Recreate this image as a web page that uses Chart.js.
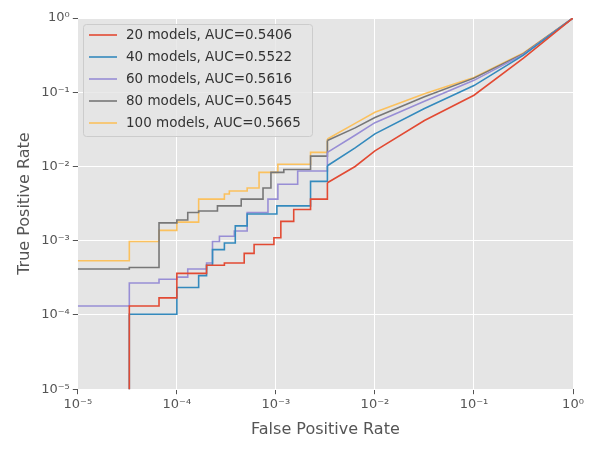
<!DOCTYPE html>
<html>
<head>
<meta charset="utf-8">
<script src="https://cdn.jsdelivr.net/npm/chart.js@4"></script>
<style>body{margin:0;background:#fff}</style>
</head>
<body>
<canvas id="c" width="595" height="449"></canvas>
<script>
// values are log10 exponents: point = (x where the step happens, y after it)
const names = ['20 models, AUC=0.5406', '40 models, AUC=0.5522', '60 models, AUC=0.5616', '80 models, AUC=0.5645', '100 models, AUC=0.5665'];
const colors = ['#E24A33', '#348ABD', '#988ED5', '#777777', '#FBC15E'];

const redX = [-4.48, -4.48, -4.18, -4, -3.70, -3.52, -3.32, -3.22, -3.02, -2.95, -2.82, -2.65, -2.48, -2.2, -2, -1.5, -1, -0.5, 0];
const redY = [-6, -3.88, -3.77, -3.44, -3.33, -3.30, -3.17, -3.05, -2.96, -2.74, -2.58, -2.44, -2.22, -2.0, -1.79, -1.38, -1.04, -0.54, 0];
const blueX = [-4.48, -4.48, -4, -3.78, -3.70, -3.64, -3.52, -3.41, -3.29, -2.99, -2.65, -2.48, -2.2, -2, -1.5, -1, -0.5, 0];
const blueY = [-6, -3.99, -3.63, -3.47, -3.33, -3.12, -3.03, -2.80, -2.64, -2.53, -2.20, -1.99, -1.75, -1.56, -1.22, -0.91, -0.50, 0];
const purpleX = [-5, -4.48, -4.18, -4, -3.89, -3.70, -3.64, -3.57, -3.42, -3.29, -3.08, -2.98, -2.78, -2.48, -2.2, -2, -1.5, -1, -0.5, 0];
const purpleY = [-3.88, -3.57, -3.52, -3.49, -3.38, -3.30, -3.01, -2.94, -2.87, -2.62, -2.44, -2.24, -2.06, -1.81, -1.58, -1.41, -1.12, -0.84, -0.49, 0];
const grayX = [-5, -4.48, -4.18, -4, -3.89, -3.78, -3.59, -3.35, -3.13, -3.05, -2.92, -2.65, -2.48, -2.2, -2, -1.5, -1, -0.5, 0];
const grayY = [-3.38, -3.36, -2.76, -2.72, -2.62, -2.60, -2.53, -2.44, -2.29, -2.08, -2.04, -1.86, -1.65, -1.48, -1.34, -1.06, -0.81, -0.48, 0];
const yellowX = [-5, -4.48, -4.18, -4, -3.78, -3.52, -3.47, -3.29, -3.17, -2.98, -2.65, -2.48, -2.2, -2, -1.5, -1, -0.5, 0];
const yellowY = [-3.27, -3.01, -2.86, -2.75, -2.44, -2.37, -2.33, -2.29, -2.08, -1.97, -1.81, -1.63, -1.42, -1.27, -1.02, -0.80, -0.47, 0];
const tickExps = [-5, -4, -3, -2, -1, 0];
const smoothFrom = -2.48; // beyond this x the curves are dense enough to look smooth

const seriesX = [redX, blueX, purpleX, grayX, yellowX];
const seriesY = [redY, blueY, purpleY, grayY, yellowY];

const sup = {'-': '⁻', '0': '⁰', '1': '¹', '2': '²', '3': '³', '4': '⁴', '5': '⁵'};
function powLabel(v) {
    const e = Math.round(Math.log10(v));
    return '10' + String(e).split('').map(ch => sup[ch]).join('');
}

const datasets = [];
names.forEach((n, i) => {
    const pts = seriesX[i].map((x, j) => ({x: Math.pow(10, x), y: Math.pow(10, seriesY[i][j])}));
    const k = seriesX[i].indexOf(smoothFrom);
    const base = {label: n, borderColor: colors[i], borderWidth: 1.6, pointRadius: 0, fill: false};
    datasets.push(Object.assign({}, base, {data: pts.slice(0, k + 1), stepped: 'before'}));
    datasets.push(Object.assign({}, base, {data: pts.slice(k), stepped: false}));
});

const bgPlugin = {
    id: 'bg',
    beforeDraw(chart) {
        const a = chart.chartArea, ctx = chart.ctx;
        ctx.save();
        ctx.fillStyle = '#E5E5E5';
        ctx.fillRect(a.left, a.top, a.right - a.left, a.bottom - a.top);
        ctx.restore();
    },
    afterDraw(chart) {
        const ctx = chart.ctx;
        ctx.save();
        ctx.fillStyle = 'rgba(229,229,229,0.8)';
        ctx.strokeStyle = '#cccccc';
        ctx.lineWidth = 1;
        ctx.beginPath();
        ctx.roundRect(83.5, 24.5, 229, 112, 3);
        ctx.fill();
        ctx.stroke();
        ctx.font = '13.5px "DejaVu Sans"';
        ctx.textBaseline = 'middle';
        names.forEach((n, i) => {
            const y = 35 + i * 22;
            ctx.strokeStyle = colors[i];
            ctx.lineWidth = 1.6;
            ctx.beginPath();
            ctx.moveTo(89, y);
            ctx.lineTo(117, y);
            ctx.stroke();
            ctx.fillStyle = '#333';
            ctx.fillText(n, 126, y);
        });
        ctx.restore();
    }
};

function axis(title) {
    return {
        type: 'logarithmic',
        min: 1e-5,
        max: 1,
        afterBuildTicks(ax) { ax.ticks = tickExps.map(e => ({value: Math.pow(10, e)})); },
        ticks: {
            autoSkip: false,
            color: '#555',
            font: {family: 'DejaVu Sans', size: 13},
            callback: v => powLabel(v)
        },
        grid: {color: '#ffffff', lineWidth: 1, tickColor: '#555', tickLength: 5},
        border: {display: false},
        title: {display: true, text: title, color: '#555', font: {family: 'DejaVu Sans', size: 16}}
    };
}

new Chart(document.getElementById('c'), {
    type: 'line',
    data: {datasets: datasets},
    options: {
        responsive: false,
        animation: false,
        devicePixelRatio: 1,
        layout: {padding: {top: 18, right: 22, left: 11, bottom: 6}},
        scales: {x: axis('False Positive Rate'), y: axis('True Positive Rate')},
        plugins: {legend: {display: false}, tooltip: {enabled: false}}
    },
    plugins: [bgPlugin]
});
</script>
</body>
</html>
